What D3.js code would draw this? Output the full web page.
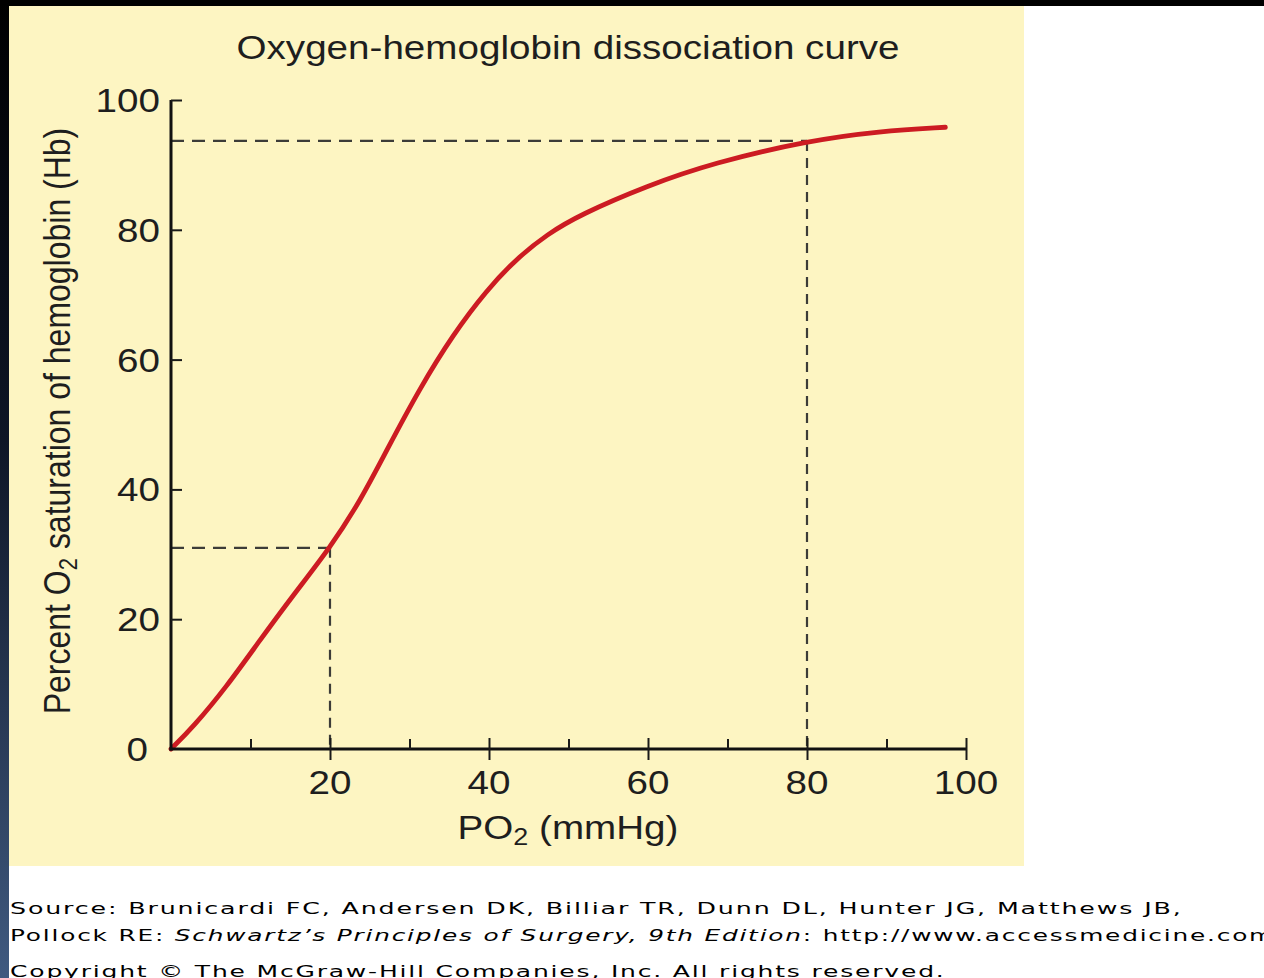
<!DOCTYPE html>
<html><head><meta charset="utf-8">
<script src="https://cdn.jsdelivr.net/npm/d3@7"></script>
<style>html,body{margin:0;padding:0;background:#fff;overflow:hidden}</style>
</head><body><svg id="c" width="1264" height="978"></svg>
<script>
// ---- data ----
const po2 = [0, 2.8, 7, 11.2, 15.3, 20, 23.8, 27.2, 31.3, 35.5, 39.7, 43.5, 47.3, 51.4, 59.9, 68.2, 80, 89.2, 97.4];
const saturation = [0, 3.4, 9.6, 16.8, 23.6, 31, 38.2, 46.2, 55.6, 63.9, 70.7, 75.6, 79.3, 82.3, 86.8, 90.3, 93.7, 95.2, 95.8];
const refPO2 = [20, 80];
const refSat = [31, 93.7];
const xMajorTicks = [20, 40, 60, 80, 100];
const xMinorTicks = [10, 30, 50, 70, 90];
const yTicks = [20, 40, 60, 80, 100];
const yTickLabels = [0, 20, 40, 60, 80, 100];
const title = "Oxygen-hemoglobin dissociation curve";
const sourceLines = [
  [["Source: Brunicardi FC, Andersen DK, Billiar TR, Dunn DL, Hunter JG, Matthews JB,", false]],
  [["Pollock RE: ", false], ["Schwartz\u2019s Principles of Surgery, 9th Edition", true], [": http://www.accessmedicine.com", false]],
  [["Copyright \u00A9 The McGraw-Hill Companies, Inc. All rights reserved.", false]]
];

const svg = d3.select('#c');
const SX = 1.17; // horizontal stretch of the original picture
const FONT = "'Liberation Sans', Arial, Helvetica, sans-serif";

// backgrounds
const defs = svg.append('defs');
const gr = defs.append('linearGradient').attr('id','side').attr('x1',0).attr('y1',0).attr('x2',0).attr('y2',1);
gr.append('stop').attr('offset','0%').attr('stop-color','#000');
gr.append('stop').attr('offset','45%').attr('stop-color','#0e1626');
gr.append('stop').attr('offset','100%').attr('stop-color','#405a80');
svg.append('rect').attr('x',0).attr('y',0).attr('width',1264).attr('height',978).attr('fill','#fff');
svg.append('rect').attr('x',0).attr('y',0).attr('width',9).attr('height',978).attr('fill','url(#side)');
svg.append('rect').attr('x',0).attr('y',0).attr('width',1264).attr('height',6).attr('fill','#000');
svg.append('rect').attr('x',9).attr('y',6).attr('width',1015).attr('height',860).attr('fill','#fdf5c2');

// scales
const x = d3.scaleLinear().domain([0,100]).range([171, 966]);
const y = d3.scaleLinear().domain([0,100]).range([749, 100]);

// title
svg.append('text').attr('transform',`translate(568,59) scale(${SX},1)`)
  .attr('text-anchor','middle').attr('font-family',FONT).attr('font-size',33).attr('fill','#1e1e1e').text(title);

// dashed reference lines
const dash = svg.append('g').attr('stroke','#3c3c38').attr('stroke-width',2.2).attr('stroke-dasharray','13,8').attr('fill','none');
refPO2.forEach((p,i)=>{
  dash.append('line').attr('x1',x(0)).attr('x2',x(p)).attr('y1',y(refSat[i])).attr('y2',y(refSat[i]));
  dash.append('line').attr('x1',x(p)).attr('x2',x(p)).attr('y1',y(refSat[i])).attr('y2',y(0)).attr('stroke-dasharray','10,7');
});

// curve
const pts = po2.map((p,i)=>[p, saturation[i]]);
svg.append('path').datum(pts)
  .attr('d', d3.line().x(d=>x(d[0])).y(d=>y(d[1])).curve(d3.curveBasis))
  .attr('fill','none').attr('stroke','#cc1b22').attr('stroke-width',4.8).attr('stroke-linecap','round');

// axes
const xa = svg.append('g').attr('transform',`translate(0,${y(0)})`)
  .call(d3.axisBottom(x).tickValues(xMajorTicks).tickSize(11).tickSizeOuter(0).tickFormat(''));
xa.selectAll('.tick line').attr('y1',-11).attr('y2',11);
const xm = svg.append('g').attr('transform',`translate(0,${y(0)})`)
  .call(d3.axisTop(x).tickValues(xMinorTicks).tickSize(10).tickSizeOuter(0).tickFormat(''));
xm.select('.domain').remove();
const ya = svg.append('g').attr('transform',`translate(${x(0)},0)`)
  .call(d3.axisLeft(y).tickValues(yTicks).tickSize(-11).tickSizeOuter(0).tickFormat(''));
[xa, xm, ya].forEach(g=>{
  g.selectAll('.tick line').attr('stroke','#1a1a1a').attr('stroke-width',2);
  g.select('.domain').attr('stroke','#111').attr('stroke-width',3);
});
ya.select('.domain').attr('d',`M0,${y(0)+1.5}V${y(100)}`);
xa.select('.domain').attr('d',`M${x(0)-1.5},0H${x(100)}`);

// tick labels
svg.append('g').selectAll('text').data(xMajorTicks).join('text')
  .attr('transform',d=>`translate(${x(d)},794) scale(${SX},1)`)
  .attr('text-anchor','middle').attr('font-family',FONT).attr('font-size',33).attr('fill','#1e1e1e').text(d=>d);
svg.append('g').selectAll('text').data(yTickLabels).join('text')
  .attr('transform',d=>`translate(${d===0?148:160},${y(d)+12}) scale(${SX},1)`)
  .attr('text-anchor','end').attr('font-family',FONT).attr('font-size',33).attr('fill','#1e1e1e').text(d=>d);

// axis titles
const xt = svg.append('text').attr('transform',`translate(568,839) scale(${SX},1)`)
  .attr('text-anchor','middle').attr('font-family',FONT).attr('font-size',33).attr('fill','#1e1e1e');
xt.append('tspan').text('PO');
xt.append('tspan').attr('font-size',23).attr('dy',6).text('2');
xt.append('tspan').attr('dy',-6).text(' (mmHg)');

const yt = svg.append('text').attr('transform',`translate(70,421) scale(${SX},1) rotate(-90)`)
  .attr('text-anchor','middle').attr('font-family',FONT).attr('font-size',32).attr('fill','#1e1e1e');
yt.append('tspan').text('Percent O');
yt.append('tspan').attr('font-size',22).attr('dy',6).text('2');
yt.append('tspan').attr('dy',-6).text(' saturation of hemoglobin (Hb)');

// source lines
const baselines = [914, 941, 977];
const widths = [1173, 1266, 936];
const srcG = svg.append('g');
sourceLines.forEach((parts,i)=>{
  const t = srcG.append('text').attr('font-family',"'DejaVu Sans', Verdana, sans-serif")
    .attr('font-size',16.5).attr('fill','#000').attr('letter-spacing',1.2).attr('x',0).attr('y',0);
  parts.forEach(([s,it])=>t.append('tspan').attr('font-style',it?'italic':'normal').text(s));
  const k = widths[i] / t.node().getComputedTextLength();
  t.attr('transform',`translate(10,${baselines[i]}) scale(${k},1)`);
});
</script></body></html>
